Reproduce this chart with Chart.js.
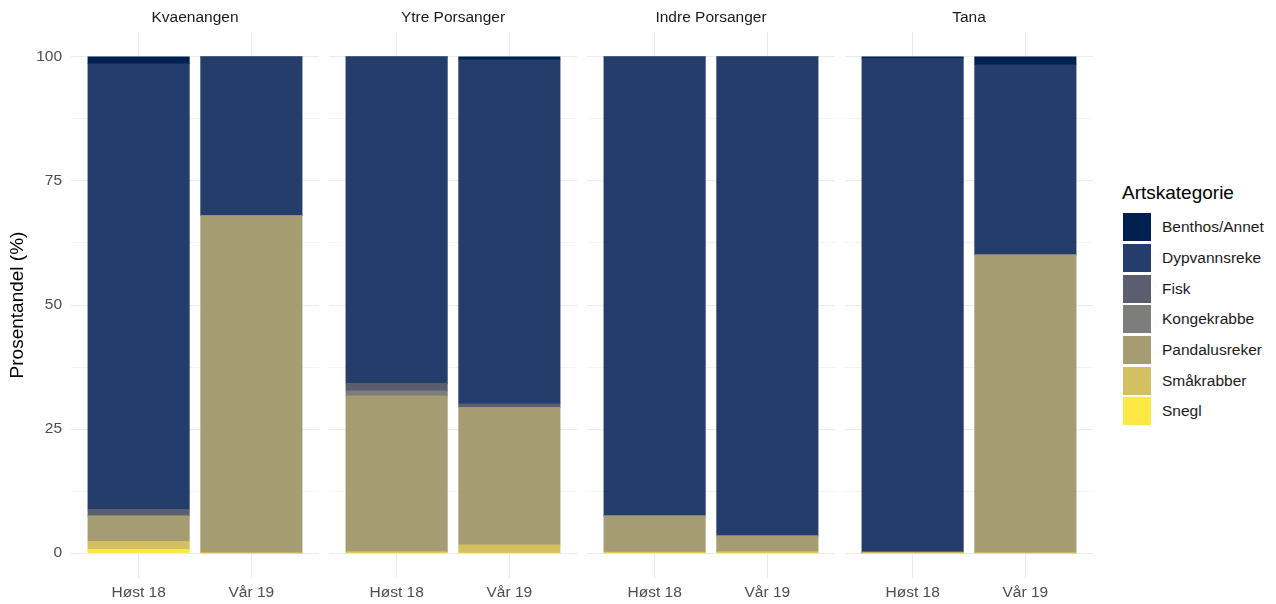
<!DOCTYPE html>
<html>
<head>
<meta charset="utf-8">
<script src="https://cdn.jsdelivr.net/npm/chart.js@4"></script>
<style>
  body { margin: 0; background: #fff; font-family: "Liberation Sans", Arial, sans-serif; }
  .panel { position: absolute; top: 0; height: 604px; }
  #legend { position: absolute; left: 1122px; top: 182px; }
  #legend .title { font-size: 19px; color: #000; margin-bottom: 8px; }
  #legend .item { display: flex; align-items: center; height: 30.7px; }
  #legend .box { width: 28px; height: 28px; margin-left: 1px; margin-right: 11px; }
  #legend .lab { font-size: 15.5px; color: #1a1a1a; }
</style>
</head>
<body>
<div id="legend"></div>

<script>
// facets and x categories
const regions = ['Kvaenangen', 'Ytre Porsanger', 'Indre Porsanger', 'Tana'];
const seasons = ['Høst 18', 'Vår 19'];
const yTicks = [0, 12.5, 25, 37.5, 50, 62.5, 75, 87.5, 100];

// species categories (legend order, top of stack first)
const categories = ['Benthos/Annet', 'Dypvannsreke', 'Fisk', 'Kongekrabbe', 'Pandalusreker', 'Småkrabber', 'Snegl'];
const colors = ['#00204f', '#243d6b', '#5a5e6f', '#7d7d7b', '#a59c74', '#d4c063', '#fde945'];

// percent per bar: Kvaenangen H/V, Ytre H/V, Indre H/V, Tana H/V
const benthos      = [1.4, 0,    0,    0.6,  0,    0,    0.3,  1.6];
const dypvannsreke = [89.8, 32,  65.8, 69.3, 92.5, 96.5, 99.5, 38.3];
const fisk         = [1.3, 0,    1.5,  0.7,  0,    0,    0,    0];
const kongekrabbe  = [0,   0,    1.0,  0,    0,    0,    0,    0];
const pandalus     = [5.1, 68,   31.4, 27.7, 7.3,  3.2,  0.2,  60.1];
const smaakrabber  = [1.6, 0,    0.3,  1.7,  0.2,  0.3,  0,    0];
const snegl        = [0.8, 0,    0,    0,    0,    0,    0,    0];

const series = [benthos, dypvannsreke, fisk, kongekrabbe, pandalus, smaakrabber, snegl];

const panelLeft = [71, 329, 587, 845];
const panelW = 248;
const barPx = panelW / 2.2 * 0.9;

const facetTitle = {
  id: 'facetTitle',
  afterDraw(chart, args, opts) {
    const ctx = chart.ctx;
    const a = chart.chartArea;
    ctx.save();
    ctx.font = '15.5px "Liberation Sans", Arial, sans-serif';
    ctx.fillStyle = '#1a1a1a';
    ctx.textAlign = 'center';
    ctx.textBaseline = 'middle';
    ctx.fillText(opts.text, (a.left + a.right) / 2, 18);
    ctx.restore();
  }
};

regions.forEach((region, r) => {
  const first = r === 0;
  const div = document.createElement('div');
  div.className = 'panel';
  const left = first ? 0 : panelLeft[r];
  div.style.left = left + 'px';
  div.style.width = (panelLeft[r] + panelW - left) + 'px';
  const canvas = document.createElement('canvas');
  div.appendChild(canvas);
  document.body.appendChild(div);

  // bottom of stack first
  const datasets = categories.map((cat, i) => ({
    label: cat,
    data: seasons.map((s, j) => ({ x: j + 1, y: series[i][r * 2 + j] })),
    backgroundColor: colors[i],
    barThickness: barPx,
    borderWidth: 0
  })).reverse();

  new Chart(canvas, {
    type: 'bar',
    data: { datasets: datasets },
    plugins: [facetTitle],
    options: {
      responsive: true,
      maintainAspectRatio: false,
      animation: false,
      layout: { padding: { top: 32, right: 0, bottom: 0, left: 0 } },
      plugins: {
        legend: { display: false },
        tooltip: { enabled: false },
        facetTitle: { text: region }
      },
      scales: {
        x: {
          type: 'linear',
          stacked: true,
          offset: false,
          min: 0.4,
          max: 2.6,
          afterBuildTicks: s => { s.ticks = seasons.map((_, j) => ({ value: j + 1 })); },
          afterFit: s => { s.height = 26; },
          ticks: {
            callback: v => seasons[v - 1],
            padding: 5,
            color: '#4d4d4d',
            font: { family: '"Liberation Sans", Arial, sans-serif', size: 15.5 },
            maxRotation: 0
          },
          grid: { color: '#ebebeb', lineWidth: 1, drawTicks: false, offset: false },
          border: { display: false }
        },
        y: {
          stacked: true,
          min: -5,
          max: 105,
          afterBuildTicks: s => { s.ticks = yTicks.map(v => ({ value: v })); },
          afterFit: s => { s.width = first ? 71 : 0; },
          ticks: {
            display: first,
            callback: v => (v % 25 === 0 ? v : ''),
            padding: 9,
            color: '#4d4d4d',
            font: { family: '"Liberation Sans", Arial, sans-serif', size: 15.5 }
          },
          title: {
            display: first,
            text: 'Prosentandel (%)',
            color: '#000',
            padding: { top: 6, bottom: 0 },
            font: { family: '"Liberation Sans", Arial, sans-serif', size: 19 }
          },
          grid: {
            color: '#ebebeb',
            lineWidth: c => (c.tick && c.tick.value % 25 === 0 ? 1 : 0.6),
            drawTicks: false
          },
          border: { display: false }
        }
      }
    }
  });
});

// legend
const legend = document.getElementById('legend');
legend.innerHTML = '<div class="title">Artskategorie</div>' +
  categories.map((c, i) =>
    '<div class="item"><div class="box" style="background:' + colors[i] + '"></div><span class="lab">' + c + '</span></div>'
  ).join('');
</script>
</body>
</html>
